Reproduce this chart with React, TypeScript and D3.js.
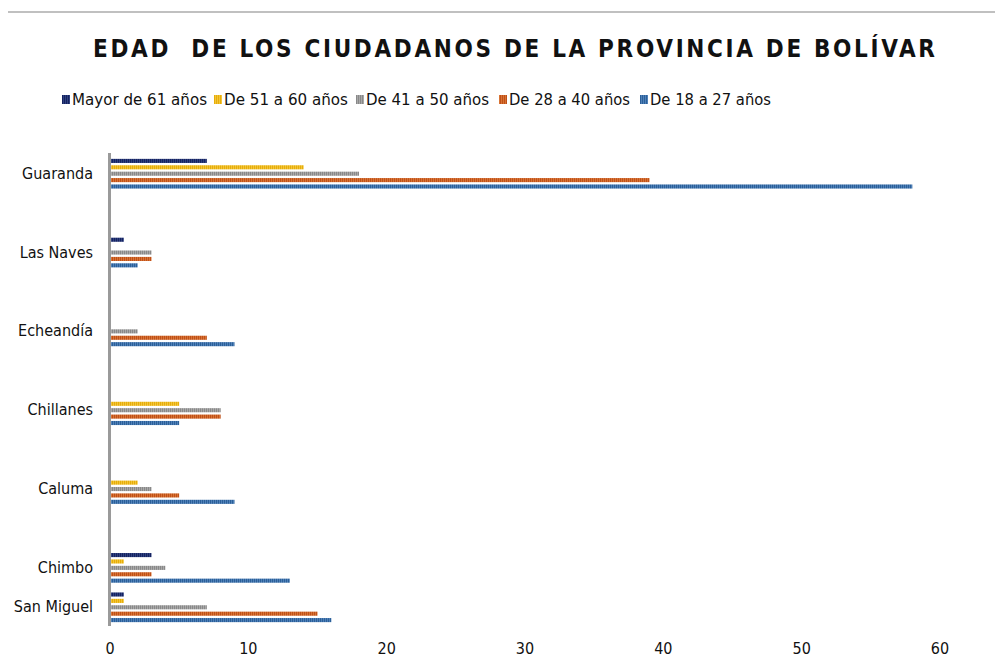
import React from "react";
import * as d3 from "d3";

const categories = ["Guaranda", "", "Las Naves", "", "Echeandía", "", "Chillanes", "", "Caluma", "", "Chimbo", "San Miguel"];
const seriesNames = ["Mayor de 61 años", "De 51 a 60 años", "De 41 a 50 años", "De 28 a 40 años", "De 18 a 27 años"];
const mayor61 = [7, 0, 1, 0, 0, 0, 0, 0, 0, 0, 3, 1];
const de51a60 = [14, 0, 0, 0, 0, 0, 5, 0, 2, 0, 1, 1];
const de41a50 = [18, 0, 3, 0, 2, 0, 8, 0, 3, 0, 4, 7];
const de28a40 = [39, 0, 3, 0, 7, 0, 8, 0, 5, 0, 3, 15];
const de18a27 = [58, 0, 2, 0, 9, 0, 5, 0, 9, 0, 13, 16];
const xTicks = [0, 10, 20, 30, 40, 50, 60];
const title = "EDAD  DE LOS CIUDADANOS DE LA PROVINCIA DE BOLÍVAR";

const seriesValues = [mayor61, de51a60, de41a50, de28a40, de18a27];
const colors = ["#14225f", "#e6ad08", "#888888", "#bf4f17", "#2b5f98"];
const lights = ["#3a4c8c", "#f7cd4a", "#b4b4b4", "#e0803f", "#5a8cc4"];

const FONT = "'Liberation Sans Narrow', 'DejaVu Sans Condensed', 'Noto Sans', sans-serif";

export default function App() {
  const W = 995, H = 658;
  const x = d3.scaleLinear().domain([0, 60]).range([110, 940]);
  const y = d3.scaleBand<number>().domain(d3.range(categories.length)).range([154, 627]).paddingInner(0);
  const sub = d3.scaleBand<number>().domain(d3.range(seriesNames.length)).range([-16, 16]).paddingInner(0.36).paddingOuter(0.18);

  const legendX = [62, 214, 356, 499, 640];
  const legendW = [135, 124, 123, 121, 121];

  return (
    <svg width={W} height={H} style={{ position: "absolute", left: 0, top: 0, background: "#fff" }}>
      <defs>
        {colors.map((c, i) => (
          <pattern key={i} id={`pat${i}`} patternUnits="userSpaceOnUse" width={2} height={10}>
            <rect x={0} y={0} width={2} height={10} fill={c} />
            <rect x={1} y={0} width={1} height={10} fill={lights[i]} opacity={0.75} />
          </pattern>
        ))}
      </defs>
      <rect x={8} y={11} width={987} height={2} fill="#c0c0c0" />
      <text
        x={93}
        y={57}
        fontFamily={FONT}
        fontWeight="bold"
        fontSize={24}
        fill="#111"
        textLength={842}
        lengthAdjust="spacing"
        style={{ whiteSpace: "pre" }}
      >
        {title}
      </text>
      {seriesNames.map((s, i) => (
        <g key={s}>
          <rect x={legendX[i]} y={95} width={8} height={9} fill={`url(#pat${i})`} />
          <text
            x={legendX[i] + 10}
            y={105}
            fontFamily={FONT}
            fontSize={15.5}
            fill="#111"
            textLength={legendW[i]}
            lengthAdjust="spacingAndGlyphs"
          >
            {s}
          </text>
        </g>
      ))}
      {categories.map((c, ci) => {
        const cy = (y(ci) as number) + y.bandwidth() / 2;
        return (
          <g key={ci}>
            {c && (
              <text x={93} y={cy + 5} textAnchor="end" fontFamily={FONT} fontSize={16} fill="#111">
                {c}
              </text>
            )}
            {seriesValues.map((vals, si) => {
              const v = vals[ci];
              if (!v) return null;
              return (
                <rect
                  key={si}
                  x={x(0) + 1}
                  y={cy + (sub(si) as number)}
                  width={x(v) - x(0) - 1}
                  height={sub.bandwidth()}
                  fill={`url(#pat${si})`}
                />
              );
            })}
          </g>
        );
      })}
      <rect x={x(0) - 2} y={153} width={3} height={473} fill="#9a9a9a" />
      {xTicks.map((t) => (
        <text key={t} x={x(t)} y={654} textAnchor="middle" fontFamily={FONT} fontSize={16} fill="#111">
          {t}
        </text>
      ))}
    </svg>
  );
}
